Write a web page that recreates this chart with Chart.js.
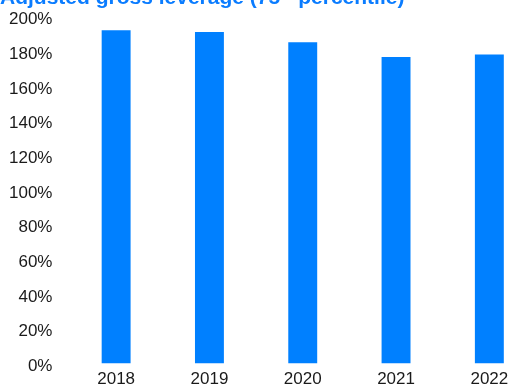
<!DOCTYPE html>
<html>
<head>
<meta charset="utf-8">
<script src="https://cdn.jsdelivr.net/npm/chart.js@4"></script>
<style>
  html, body { margin: 0; padding: 0; background: #fff; }
  #wrap { position: relative; width: 510px; height: 389px; overflow: hidden; }
  #title {
    position: absolute; left: 0; top: -14px; white-space: nowrap;
    font: bold 21px "Liberation Sans", Arial, sans-serif; line-height: 21px;
    color: #0a7cff; z-index: 2;
  }
  #title sup { font-size: 13px; line-height: 0; }
  #chart { position: absolute; left: -15px; top: -10.5px; }
</style>
</head>
<body>
<div id="wrap">
  <div id="title">Adjusted gross leverage (75<sup>th</sup> percentile)</div>
  <canvas id="chart" width="551" height="408"></canvas>
</div>
<script>
// years and leverage values (percent)
var years = ['2018', '2019', '2020', '2021', '2022'];
var leverage = [192.5, 191.5, 185.5, 177, 178.5];
var yTicks = [0, 20, 40, 60, 80, 100, 120, 140, 160, 180, 200];

var barColor = '#0080ff';

var data = {
  labels: years,
  datasets: [{
    label: 'Adjusted gross leverage',
    data: leverage,
    backgroundColor: barColor,
    borderWidth: 0,
    barPercentage: 0.31,
    categoryPercentage: 1
  }]
};

var config = {
  type: 'bar',
  data: data,
  options: {
    responsive: false,
    animation: false,
    layout: { padding: { left: 7, top: 8, right: 0, bottom: 2 } },
    plugins: {
      legend: { display: false },
      title: { display: false },
      tooltip: { enabled: false }
    },
    scales: {
      x: {
        grid: { display: false, drawTicks: false },
        border: { display: false },
        ticks: {
          color: '#1a1a1a',
          padding: 6,
          maxRotation: 0,
          font: { family: '"Liberation Sans", Arial, sans-serif', size: 17 }
        }
      },
      y: {
        min: 0,
        max: 200,
        afterBuildTicks: function(axis) {
          axis.ticks = yTicks.map(function(v) { return { value: v }; });
        },
        grid: { display: false, drawTicks: false },
        border: { display: false },
        ticks: {
          color: '#1a1a1a',
          padding: 17,
          labelOffset: 2.5,
          callback: function(v) { return v + '%'; },
          font: { family: '"Liberation Sans", Arial, sans-serif', size: 17 }
        }
      }
    }
  }
};

var leverageChart = new Chart(document.getElementById('chart'), config);
</script>
</body>
</html>
